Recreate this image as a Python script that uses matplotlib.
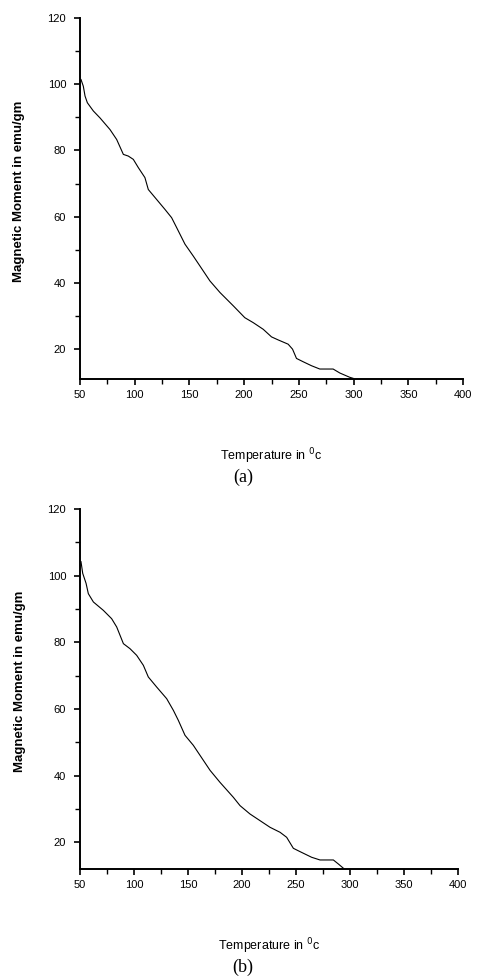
import matplotlib
matplotlib.use("Agg")
import matplotlib.pyplot as plt
from matplotlib.ticker import MultipleLocator

# magnetisation vs temperature, sample (a)
temp_a = [50.9, 53.0, 54.6, 56.7, 62.2, 68.3, 77.4, 83.5, 89.6, 94.1, 98.7,
          103.3, 109.3, 112.4, 120.0, 127.6, 133.7, 138.3, 145.9, 153.5,
          159.6, 168.7, 177.9, 190.0, 200.6, 208.3, 217.4, 225.0, 231.0,
          240.2, 244.2, 247.8, 253.9, 261.5, 269.1, 281.3, 287.4, 296.5, 299.5]
moment_a = [101.4, 99.4, 96.4, 94.4, 91.9, 89.8, 86.3, 83.3, 78.8, 78.3, 77.3,
            74.8, 71.8, 68.2, 65.2, 62.2, 59.7, 56.7, 51.7, 48.1,
            45.1, 40.6, 37.1, 33.1, 29.5, 28.0, 26.0, 23.7, 22.8,
            21.5, 20.0, 17.2, 16.2, 15.0, 14.0, 14.0, 12.8, 11.5, 11.2]

# sample (b)
temp_b = [50.9, 52.5, 55.6, 57.7, 62.4, 71.6, 79.3, 84.0, 90.2, 96.3, 102.5,
          108.7, 113.3, 121.0, 130.3, 136.5, 141.1, 147.3, 155.0, 161.2,
          170.5, 179.7, 192.1, 198.3, 207.5, 216.8, 226.1, 235.4, 241.5,
          247.7, 253.9, 264.7, 272.4, 284.8, 289.4, 295.6]
moment_b = [104.2, 100.7, 97.7, 94.6, 92.1, 89.6, 87.1, 84.6, 79.6, 78.1, 76.1,
            73.1, 69.6, 66.6, 63.1, 59.6, 56.6, 52.1, 49.1, 46.1,
            41.6, 38.0, 33.5, 31.0, 28.5, 26.5, 24.5, 23.0, 21.5,
            18.2, 17.2, 15.5, 14.7, 14.7, 13.5, 11.8]

x_ticks = [50, 100, 150, 200, 250, 300, 350, 400]
y_ticks = [20, 40, 60, 80, 100, 120]

plt.rcParams["font.family"] = ["Liberation Sans", "DejaVu Sans"]

fig = plt.figure(figsize=(4.78, 9.8), dpi=100)
fig.patch.set_facecolor("white")

panels = [
    ([0.1674, 0.6133, 0.8013, 0.3684], temp_a, moment_a, 11, "(a)", 0.513),
    ([0.1674, 0.1133, 0.7901, 0.3673], temp_b, moment_b, 12, "(b)", 0.013),
]

for rect, t, m, ymin, tag, tag_y in panels:
    ax = fig.add_axes(rect)
    ax.plot(t, m, color="black", lw=0.8)
    ax.set_xlim(50, 400)
    ax.set_ylim(ymin, 120)
    ax.set_xticks(x_ticks)
    ax.set_yticks(y_ticks)
    ax.xaxis.set_minor_locator(MultipleLocator(25))
    ax.yaxis.set_minor_locator(MultipleLocator(10))
    for side in ("top", "right"):
        ax.spines[side].set_visible(False)
    for side in ("left", "bottom"):
        ax.spines[side].set_linewidth(1.4)
    ax.tick_params(which="major", length=4, width=1.2, labelsize=8)
    ax.tick_params(which="minor", length=3.5, width=1.0)
    ax.tick_params(axis="y", pad=6)
    ax.tick_params(axis="x", pad=4)
    ax.set_ylabel("Magnetic Moment in emu/gm", fontsize=9.5, fontweight="bold")
    ax.yaxis.set_label_coords(-0.144, 0.52)
    ax.set_xlabel("Temperature in $^{0}$c", fontsize=9)
    ax.xaxis.set_label_coords(0.5, -0.188)
    fig.text(0.508, tag_y, tag, ha="center", va="center", fontsize=13,
             family="Liberation Serif")

fig.savefig("out.png", dpi=100)
